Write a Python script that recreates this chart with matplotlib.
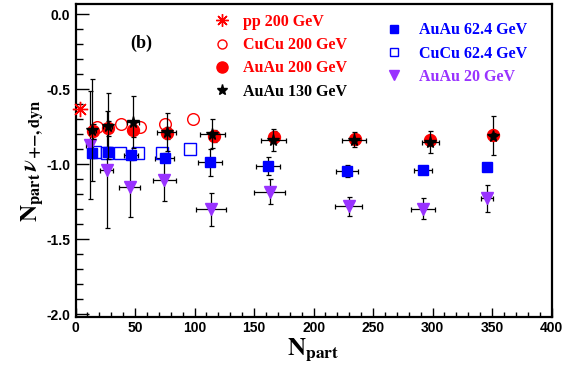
import matplotlib
matplotlib.use('Agg')
import matplotlib.pyplot as plt
from matplotlib.ticker import MultipleLocator

# values
pp200_x = [3.5]
pp200_y = [-0.635]

cucu200_x = [18, 38.5, 54, 75, 99]
cucu200_y = [-0.75, -0.735, -0.75, -0.73, -0.70]

auau200_x = [14.5, 27, 48, 77, 116, 167, 235, 298, 351]
auau200_y = [-0.78, -0.76, -0.77, -0.795, -0.815, -0.818, -0.835, -0.836, -0.807]
auau200_yerr = [0.05, 0.05, 0.05, 0.04, 0.04, 0.04, 0.03, 0.03, 0.13]

auau130_x = [14, 27, 48, 76.5, 115, 166, 234, 298, 351]
auau130_y = [-0.775, -0.745, -0.72, -0.785, -0.796, -0.84, -0.836, -0.855, -0.81]
auau130_xerr = [3, 4, 5, 8, 10.8, 10.5, 9.8, 7.3, 0]
auau130_yerr = [0.34, 0.22, 0.175, 0.125, 0.095, 0.072, 0.047, 0.073, 0.02]

auau62_x = [14, 27.5, 46.5, 75, 113, 162, 228, 292, 346]
auau62_y = [-0.929, -0.918, -0.94, -0.957, -0.988, -1.012, -1.044, -1.04, -1.018]
auau62_xerr = [2, 4, 6, 8, 10, 10, 9.5, 7.7, 3]
auau62_yerr = [0.03, 0.03, 0.03, 0.03, 0.092, 0.059, 0.04, 0.02, 0.02]

cucu62_x = [16, 26, 37, 52.5, 72.5, 96.5]
cucu62_y = [-0.918, -0.924, -0.924, -0.929, -0.924, -0.896]

auau20_x = [12, 26, 45.5, 74.5, 113.5, 163, 229.5, 292, 346]
auau20_y = [-0.873, -1.036, -1.15, -1.105, -1.302, -1.183, -1.28, -1.296, -1.229]
auau20_xerr = [3, 5.6, 9, 9.8, 12.6, 12.9, 11.2, 10, 4.9]
auau20_yerr = [0.36, 0.39, 0.2, 0.14, 0.111, 0.083, 0.064, 0.067, 0.091]

red = '#ff0000'
blue = '#0000ff'
purple = '#9933ff'

plt.rcParams['mathtext.fontset'] = 'stix'

fig = plt.figure(figsize=(5.64, 3.67), dpi=100)
ax = fig.add_axes([0.134, 0.136, 0.844, 0.852])

eb = dict(ecolor='black', elinewidth=0.9, capsize=1.8, capthick=0.9, linestyle='none')

ax.errorbar(auau20_x, auau20_y, xerr=auau20_xerr, yerr=auau20_yerr, fmt='v',
            color=purple, ms=8, zorder=3, **eb)
ax.errorbar(auau62_x, auau62_y, xerr=auau62_xerr, yerr=auau62_yerr, fmt='s',
            color=blue, ms=7.2, zorder=3, **eb)
ax.plot(cucu62_x, cucu62_y, 's', ms=8.6, mfc='none', mec=blue, mew=1.0, zorder=3)
ax.plot(cucu200_x, cucu200_y, 'o', ms=8.4, mfc='none', mec=red, mew=1.0, zorder=3)
ax.errorbar(auau200_x, auau200_y, yerr=auau200_yerr, fmt='o',
            color=red, ms=8.6, zorder=4, **eb)
ax.errorbar(auau130_x, auau130_y, xerr=auau130_xerr, yerr=auau130_yerr, fmt='*',
            color='black', ms=8.5, zorder=5, **eb)
ax.plot(pp200_x, pp200_y, marker=(8, 2, 0), color=red, ms=11, mew=1.0,
        linestyle='none', zorder=5, clip_on=False)

ax.set_xlim(0, 400)
ax.set_ylim(-2.02, 0.065)
ax.xaxis.set_major_locator(MultipleLocator(50))
ax.xaxis.set_minor_locator(MultipleLocator(10))
ax.yaxis.set_major_locator(MultipleLocator(0.5))
ax.yaxis.set_minor_locator(MultipleLocator(0.1))
ax.yaxis.set_major_formatter(plt.FuncFormatter(lambda v, p: f'{v:.1f}'))

ax.tick_params(axis='both', which='both', direction='in', top=False, right=False)
ax.tick_params(axis='y', which='major', length=9.4, width=1.0, pad=4)
ax.tick_params(axis='y', which='minor', length=5, width=1.0)
ax.tick_params(axis='x', which='major', length=6.5, width=1.0, pad=3)
ax.tick_params(axis='x', which='minor', length=3.6, width=1.0)
for lab in ax.get_xticklabels() + ax.get_yticklabels():
    lab.set_fontfamily('Liberation Sans')
    lab.set_fontweight('bold')
    lab.set_fontsize(10)
for s in ax.spines.values():
    s.set_linewidth(1.6)

ax.set_xlabel(r'$\mathbf{N}_{\mathbf{part}}$', fontsize=18, labelpad=1)
ax.set_ylabel(r'$\mathbf{N}_{\mathbf{part}}\,\boldsymbol{\nu}_{\mathbf{{+}{-},dyn}}$',
              fontsize=17, labelpad=1)

ax.text(0.137, 0.875, '(b)', transform=ax.transAxes, fontsize=13,
        fontfamily='Liberation Serif', fontweight='bold', ha='center', va='center')

font_leg = {'family': 'Liberation Serif', 'weight': 'bold', 'size': 11.5}

h1 = [
    plt.Line2D([], [], marker=(8, 2, 0), color=red, ms=9, mew=1.0, linestyle='none'),
    plt.Line2D([], [], marker='o', mfc='none', mec=red, ms=6.5, mew=1.0, linestyle='none'),
    plt.Line2D([], [], marker='o', color=red, ms=8, linestyle='none'),
    plt.Line2D([], [], marker='*', color='black', ms=8, linestyle='none'),
]
leg1 = ax.legend(h1, ['pp 200 GeV', 'CuCu 200 GeV', 'AuAu 200 GeV', 'AuAu 130 GeV'],
                 loc='upper left', bbox_to_anchor=(0.273, 0.995), frameon=False,
                 prop=font_leg, borderpad=0, handlelength=1.0, handletextpad=0.85,
                 labelspacing=0.45, labelcolor=[red, red, red, 'black'])
ax.add_artist(leg1)

h2 = [
    plt.Line2D([], [], marker='s', color=blue, ms=5.5, linestyle='none'),
    plt.Line2D([], [], marker='s', mfc='none', mec=blue, ms=5.5, mew=1.0, linestyle='none'),
    plt.Line2D([], [], marker='v', color=purple, ms=6.5, linestyle='none'),
]
ax.legend(h2, ['AuAu 62.4 GeV', 'CuCu 62.4 GeV', 'AuAu 20 GeV'],
          loc='upper left', bbox_to_anchor=(0.636, 0.968), frameon=False,
          prop=font_leg, borderpad=0, handlelength=1.0, handletextpad=1.05,
          labelspacing=0.45, labelcolor=[blue, blue, purple])

fig.savefig('out.png', dpi=100)
